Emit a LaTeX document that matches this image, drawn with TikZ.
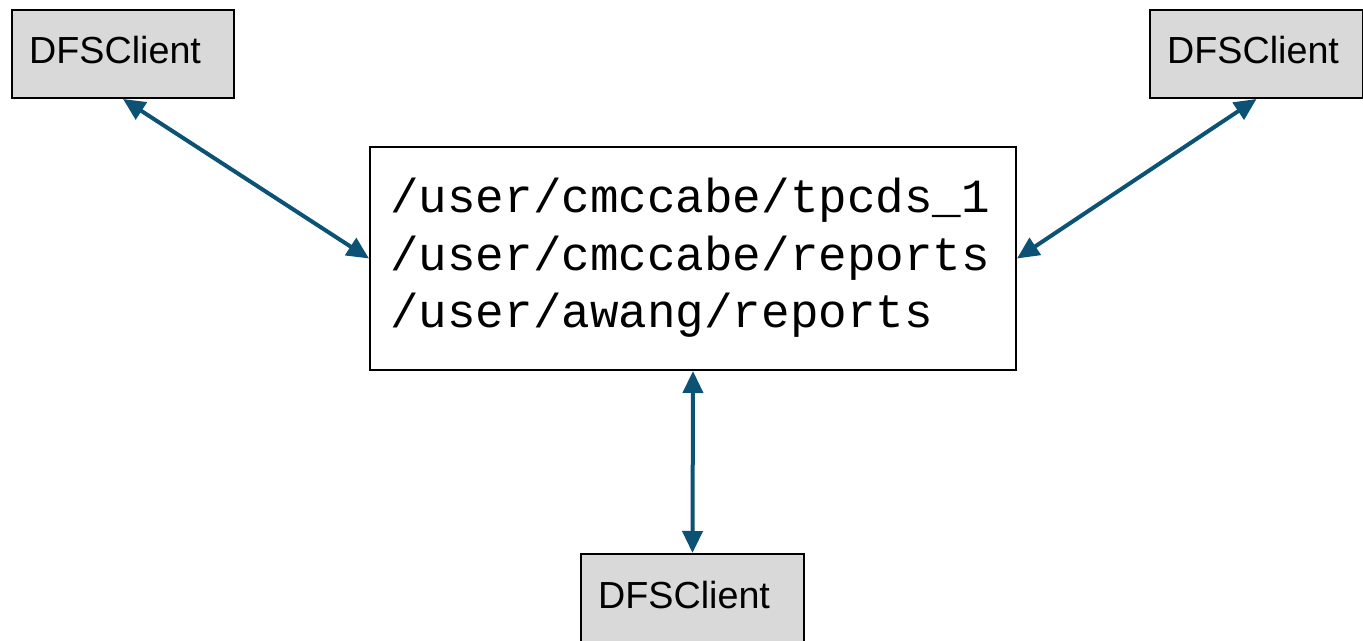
\documentclass[tikz,border=0pt]{standalone}
\usepackage{fontspec}
\setmainfont{Liberation Sans}
\newfontfamily\pathfont{Liberation Mono}
\usetikzlibrary{arrows.meta}
\definecolor{linkblue}{HTML}{0B5274}
\definecolor{clientgray}{HTML}{D9D9D9}
\begin{document}
\begin{tikzpicture}[x=1pt,y=-1pt,
  clientbox/.style={draw=black, line width=2pt, fill=clientgray, anchor=north west,
    minimum height=88pt, inner sep=0pt},
  nsbox/.style={draw=black, line width=2pt, fill=white, anchor=north west,
    minimum width=646pt, minimum height=223pt, inner sep=0pt},
  clientlabel/.style={anchor=base west, inner sep=0pt,
    font=\fontsize{37.7}{45}\selectfont},
  pathlabel/.style={anchor=base west, inner sep=0pt,
    font=\pathfont\fontsize{47.6}{57.5}\selectfont},
  link/.style={draw=linkblue, line width=4pt,
    {Triangle[length=22pt,width=20pt]}-{Triangle[length=22pt,width=20pt]}}
]
\useasboundingbox (0,0) rectangle (1363,640);

% client boxes
\node[clientbox, minimum width=222pt] (c1) at (11,9) {};
\node[clientbox, minimum width=213pt] (c2) at (1149,9) {};
\node[clientbox, minimum width=223pt, minimum height=110pt] (c3) at (580,553) {};

\node[clientlabel] (l1) at (29,63) {DFSClient};
\node[clientlabel] (l2) at (1167,63) {DFSClient};
\node[clientlabel] (l3) at (598,608) {DFSClient};

% namespace box with its paths
\node[nsbox] (ns) at (369,146) {};
\node[pathlabel] (p1) at (390,212) {/user/cmccabe/tpcds\_1};
\node[pathlabel] (p2) at (390,270) {/user/cmccabe/reports};
\node[pathlabel] (p3) at (390,327) {/user/awang/reports};

% connections
\draw[link] (c1.south) -- (ns.west);
\draw[link] (c2.south) -- (ns.east);
\draw[link] (ns.south) -- (c3.north);
\end{tikzpicture}
\end{document}
